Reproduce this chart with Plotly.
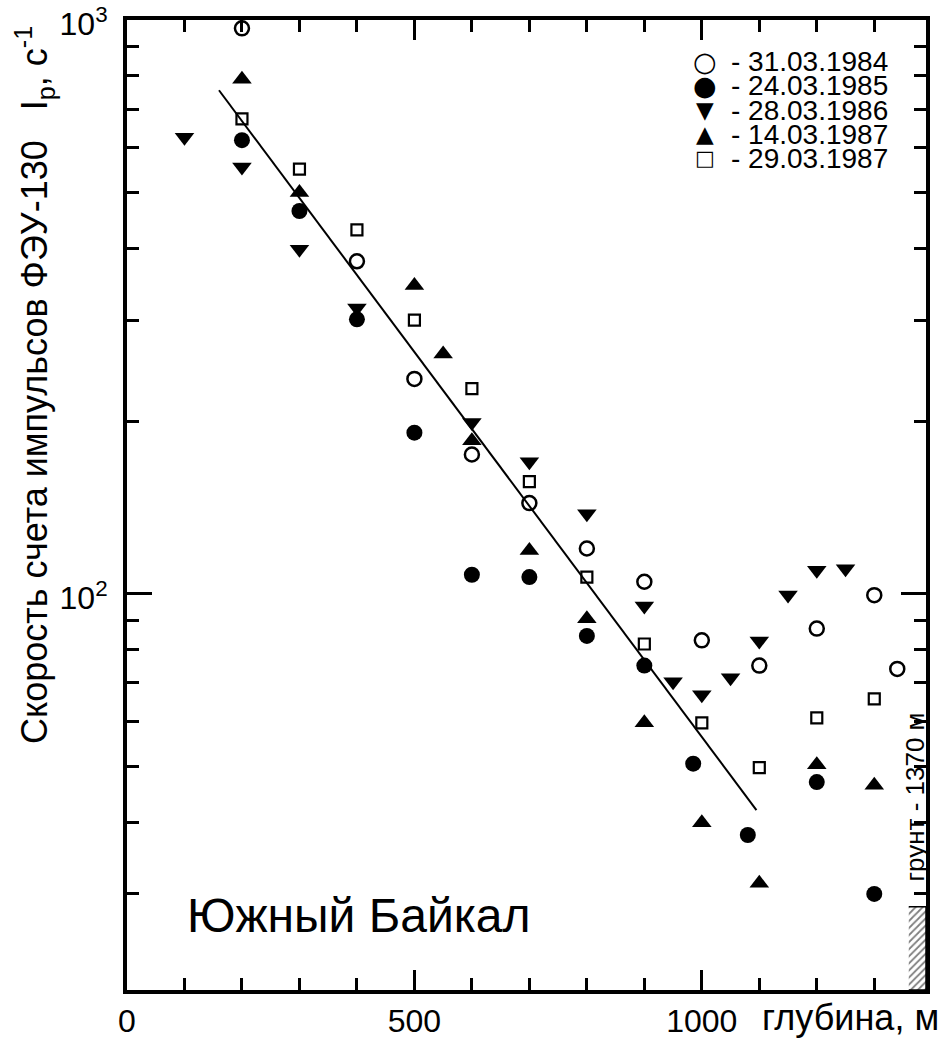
import plotly.graph_objects as go

# ---------------- data ----------------
depth_1984 = [200, 400, 500, 600, 700, 800, 900, 1000, 1100, 1200, 1300, 1340]
rate_1984 = [968, 380, 237, 175, 144, 120, 105, 83, 75, 87, 99.5, 74]

depth_1985 = [200, 300, 400, 500, 600, 700, 800, 900, 985, 1080, 1200, 1300]
rate_1985 = [618, 465, 301, 191, 108, 107, 84.5, 75, 50.6, 38, 47, 30]

depth_1986 = [100, 200, 300, 400, 600, 700, 800, 900, 950, 1000, 1050, 1100, 1150, 1200, 1250]
rate_1986 = [625, 555, 399, 315, 199, 170, 138, 95.3, 70.3, 66.7, 71.4, 82.8, 99.6, 110, 110.6]

depth_1987a = [200, 300, 500, 550, 600, 700, 800, 900, 1000, 1100, 1200, 1300]
rate_1987a = [789, 501, 345, 262, 185, 119, 90.5, 59.6, 39.9, 31.3, 50.4, 46.4]

depth_1987b = [200, 300, 400, 500, 600, 700, 800, 900, 1000, 1100, 1200, 1300]
rate_1987b = [673, 550, 431, 300, 228, 157, 107, 81.8, 59.6, 49.8, 60.8, 65.6]

fit_depth = [160, 1095]
fit_rate = [755, 42]

series_labels = ["- 31.03.1984", "- 24.03.1985", "- 28.03.1986", "- 14.03.1987", "- 29.03.1987"]
legend_glyphs = ["\u25CB", "\u25CF", "\u25BC", "\u25B2", "\u25A1"]

x_major = [0, 500, 1000]
x_minor = [100, 200, 300, 400, 600, 700, 800, 900, 1100, 1200, 1300]
y_major = [100, 1000]
y_major_text = ["10<sup>2</sup>", "10<sup>3</sup>"]
y_minor = [20, 30, 40, 50, 60, 70, 80, 90, 200, 300, 400, 500, 600, 700, 800, 900]

x_max = 1390
y_min, y_max = 20.4, 1000
ground_depth = 1370
hatch_start = 1360
hatch_top = 28.5

FONT = "Liberation Sans, Arial, sans-serif"

# plot-area geometry in pixels (for placing the free texts)
L, R, T, B = 127, 926, 20, 990
W, H = R - L, B - T


def px(xp):
    return (xp - L) / W


def py(yp):
    return (B - yp) / H


fig = go.Figure()

# regression line
fig.add_trace(go.Scatter(x=fit_depth, y=fit_rate, mode="lines",
                         line=dict(color="black", width=2), hoverinfo="skip"))

styles = [
    dict(symbol="circle-open", size=14, line=dict(color="black", width=2.5), color="black"),
    dict(symbol="circle", size=16, color="black", line=dict(width=0)),
    dict(symbol="triangle-down", size=17, color="black", line=dict(width=0)),
    dict(symbol="triangle-up", size=17, color="black", line=dict(width=0)),
    dict(symbol="square-open", size=11, line=dict(color="black", width=2.2), color="black"),
]
data = [(depth_1984, rate_1984), (depth_1985, rate_1985), (depth_1986, rate_1986),
        (depth_1987a, rate_1987a), (depth_1987b, rate_1987b)]
for (xs, ys), st, lab in zip(data, styles, series_labels):
    fig.add_trace(go.Scatter(x=xs, y=ys, mode="markers", marker=st, name=lab))

# hatched ground region
fig.add_trace(go.Scatter(
    x=[hatch_start, x_max, x_max, hatch_start],
    y=[hatch_top, hatch_top, y_min, y_min],
    mode="lines", fill="toself", fillcolor="white",
    fillpattern=dict(shape="/", size=5, solidity=0.35, fgcolor="black", bgcolor="white"),
    line=dict(color="black", width=1.5), hoverinfo="skip"))

annotations = []
# legend drawn as text rows
glyph_sizes = [27, 27, 23, 23, 21]
for i, (g, lab) in enumerate(zip(legend_glyphs, series_labels)):
    yy = py(62 + 24 * i)
    annotations.append(dict(xref="paper", yref="paper", x=px(705), y=yy, text=g,
                            showarrow=False, xanchor="center", yanchor="middle",
                            font=dict(family="DejaVu Sans", size=glyph_sizes[i], color="black")))
    annotations.append(dict(xref="paper", yref="paper", x=px(729), y=yy, text=lab,
                            showarrow=False, xanchor="left", yanchor="middle",
                            font=dict(family=FONT, size=28, color="black")))

annotations.append(dict(xref="paper", yref="paper", x=px(185), y=py(915.5), text="Южный Байкал",
                        showarrow=False, xanchor="left", yanchor="middle",
                        font=dict(family=FONT, size=48, color="black")))
annotations.append(dict(xref="paper", yref="paper", x=px(941), y=py(1018), text="глубина, м",
                        showarrow=False, xanchor="right", yanchor="middle",
                        font=dict(family=FONT, size=36, color="black")))
annotations.append(dict(xref="x", yref="paper", x=ground_depth, y=py(797),
                        text="грунт - 1370 м", textangle=-90,
                        showarrow=False, xanchor="center", yanchor="middle",
                        font=dict(family=FONT, size=26, color="black")))
annotations.append(dict(xref="paper", yref="paper", x=px(34), y=py(385),
                        text="Скорость счета импульсов ФЭУ-130\u00a0\u00a0\u00a0I<sub>p</sub>, c<sup>-1</sup>",
                        textangle=-90, showarrow=False, xanchor="center", yanchor="middle",
                        font=dict(family=FONT, size=36, color="black")))

fig.update_layout(
    width=942, height=1040, autosize=False,
    margin=dict(l=L, r=942 - R, t=T, b=1040 - B),
    paper_bgcolor="white", plot_bgcolor="white",
    showlegend=False,
    annotations=annotations,
    font=dict(family=FONT, size=32, color="black"),
)

fig.update_xaxes(
    range=[0, x_max], showgrid=False, zeroline=False, automargin=False,
    showline=True, linewidth=4, linecolor="black", mirror="ticks",
    tickmode="array", tickvals=x_major, ticktext=[str(v) for v in x_major],
    ticks="inside", ticklen=20, tickwidth=3, tickcolor="black",
    tickfont=dict(family=FONT, size=32, color="black"), ticklabelstandoff=0,
    ticklabeloverflow="allow",
    minor=dict(tickmode="array", tickvals=x_minor, ticks="inside", ticklen=12,
               tickwidth=3, tickcolor="black", showgrid=False),
)
fig.update_yaxes(
    type="log", range=[1.3096, 3.0004], showgrid=False, zeroline=False, automargin=False,
    showline=True, linewidth=4, linecolor="black", mirror="ticks",
    tickmode="array", tickvals=y_major, ticktext=y_major_text,
    ticks="inside", ticklen=25, tickwidth=3, tickcolor="black",
    tickfont=dict(family=FONT, size=32, color="black"), ticklabelstandoff=9,
    ticklabelshift=4, ticklabeloverflow="allow",
    minor=dict(tickmode="array", tickvals=y_minor, ticks="inside", ticklen=12,
               tickwidth=3, tickcolor="black", showgrid=False),
)

fig.write_html("out.html")
